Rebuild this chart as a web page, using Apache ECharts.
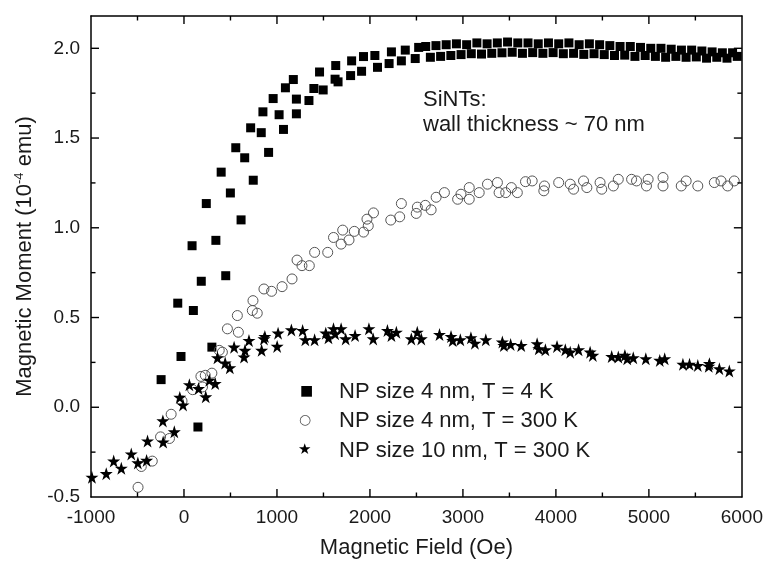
<!DOCTYPE html>
<html>
<head>
<meta charset="utf-8">
<script src="https://cdn.jsdelivr.net/npm/echarts@6/dist/echarts.min.js"></script>
<style>
html,body{margin:0;padding:0;background:#fff;}
#chart{width:766px;height:564px;}
</style>
</head>
<body>
<div id="chart"></div>
<script>
// ---- data (Magnetic Field in Oe, Magnetic Moment in 1e-4 emu) ----
var seriesNames = ['NP size 4 nm, T = 4 K', 'NP size 4 nm, T = 300 K', 'NP size 10 nm, T = 300 K'];
var legendGlyphs = ['\u25A0', '\u25CB', '\u2605'];
var noteLines = ['SiNTs:', 'wall thickness ~ 70 nm'];

var sq4K = [
  [-246,0.154],[-32,0.283],[-67,0.58],[101,0.539],[186,0.702],[449,0.733],[150,-0.11],[300,0.335],
  [87,0.90],[343,0.93],[240,1.135],[614,1.044],[499,1.194],[400,1.31],[745,1.265],[557,1.446],
  [653,1.39],[910,1.42],[717,1.557],[831,1.53],[1070,1.548],[849,1.646],[1023,1.63],[1209,1.635],
  [959,1.72],[1209,1.717],[1344,1.709],[1091,1.78],[1176,1.826],[1397,1.776],[1497,1.768],[1458,1.868],
  [1632,1.904],[1625,1.828],[1657,1.813],[1792,1.848],[1803,1.93],[1910,1.872],[1931,1.954],[2053,1.96],
  [2081,1.894],[2206,1.915],[2231,1.98],[2338,1.93],[2380,1.99],[2487,1.943],[2524,2.005],
  // upper branch
  [2600,2.01],[2710,2.015],[2820,2.02],[2930,2.025],[3040,2.02],[3150,2.03],[3260,2.025],[3370,2.03],
  [3480,2.035],[3590,2.03],[3700,2.03],[3810,2.025],[3920,2.03],[4030,2.025],[4140,2.03],[4250,2.02],
  [4360,2.025],[4470,2.02],[4580,2.015],[4690,2.01],[4800,2.01],[4910,2.005],[5020,2.0],[5130,2.0],
  [5240,1.995],[5350,1.99],[5460,1.99],[5570,1.985],[5680,1.98],[5790,1.975],[5900,1.975],
  // lower branch
  [2650,1.95],[2760,1.955],[2870,1.96],[2980,1.965],[3090,1.97],[3200,1.968],[3310,1.972],[3420,1.975],
  [3530,1.978],[3640,1.972],[3750,1.976],[3860,1.972],[3970,1.976],[4080,1.97],[4190,1.972],[4300,1.966],
  [4410,1.97],[4520,1.965],[4630,1.96],[4740,1.962],[4850,1.955],[4960,1.96],[5070,1.955],[5180,1.95],
  [5290,1.955],[5400,1.95],[5510,1.952],[5620,1.945],[5730,1.95],[5840,1.945],[5950,1.955]
];

var circ300K = [
  [-494,-0.446],[-459,-0.33],[-341,-0.30],[-252,-0.165],[-156,-0.174],[-138,-0.039],[-21,0.035],[93,0.098],
  [199,0.113],[182,0.172],[229,0.178],[300,0.19],[413,0.307],[379,0.317],[467,0.437],[585,0.418],
  [574,0.511],[735,0.539],[788,0.524],[742,0.594],[860,0.659],[942,0.646],[1055,0.672],[1162,0.715],
  [1216,0.82],[1269,0.789],[1348,0.789],[1405,0.863],[1546,0.863],[1608,0.946],[1707,0.987],[1690,0.909],
  [1775,0.932],[1832,0.98],[1931,0.976],[1982,1.011],[1968,1.048],[2038,1.083],[2224,1.043],[2320,1.061],
  [2338,1.135],[2498,1.08],[2510,1.115],[2595,1.125],[2658,1.10],[2712,1.17],[2801,1.196],[2943,1.159],
  [2979,1.187],[3068,1.159],[3068,1.224],[3175,1.196],[3264,1.243],[3371,1.252],[3389,1.196],[3460,1.196],
  [3521,1.224],[3585,1.196],[3673,1.257],[3745,1.261],[3877,1.233],[3870,1.206],[4030,1.252],[4154,1.243],
  [4190,1.215],[4297,1.261],[4333,1.224],[4475,1.252],[4493,1.215],[4618,1.233],[4671,1.27],[4814,1.27],
  [4867,1.261],[4992,1.27],[4974,1.233],[5152,1.28],[5152,1.233],[5401,1.261],[5348,1.233],[5526,1.233],
  [5704,1.252],[5776,1.261],[5847,1.233],[5918,1.261]
];

var star10nm = [
  [-990,-0.39],[-836,-0.37],[-756,-0.30],[-674,-0.34],[-567,-0.26],[-496,-0.31],[-402,-0.296],[-392,-0.188],
  [-224,-0.194],[-227,-0.076],[-104,-0.137],[-45,0.055],[-10,0.013],[58,0.125],[157,0.104],[234,0.058],
  [272,0.15],[336,0.132],[360,0.276],[443,0.246],[493,0.22],[539,0.335],[646,0.28],[656,0.317],
  [699,0.372],[835,0.317],[860,0.381],[870,0.394],[1002,0.339],[1012,0.413],[1155,0.431],[1276,0.428],
  [1305,0.376],[1405,0.376],[1525,0.413],[1554,0.387],[1608,0.437],[1626,0.409],[1690,0.437],[1739,0.381],
  [1840,0.40],[1989,0.437],[2035,0.381],[2188,0.428],[2231,0.40],[2284,0.418],[2445,0.381],[2509,0.418],
  [2552,0.381],[2748,0.405],[2872,0.394],[2890,0.372],[2972,0.376],[3086,0.387],[3129,0.357],[3246,0.376],
  [3424,0.363],[3440,0.344],[3513,0.35],[3627,0.344],[3798,0.354],[3816,0.326],[3887,0.32],[4012,0.339],
  [4101,0.32],[4154,0.307],[4244,0.32],[4368,0.307],[4397,0.289],[4600,0.283],[4671,0.28],[4742,0.289],
  [4767,0.27],[4832,0.276],[4967,0.27],[5117,0.261],[5170,0.27],[5366,0.239],[5437,0.239],[5526,0.233],
  [5644,0.228],[5651,0.243],[5758,0.215],[5865,0.202]
];

var xTicks = {min: -1000, max: 6000, interval: 1000};
var yTicks = {min: -0.5, max: 2.18, interval: 0.5};
var xMajorTicks = [0, 1000, 2000, 3000, 4000, 5000];
var xMinorTicks = [-500, 500, 1500, 2500, 3500, 4500, 5500];
var yMajorTicks = [0, 0.5, 1.0, 1.5, 2.0];
var yMinorTicks = [-0.25, 0.25, 0.75, 1.25, 1.75];

// ---- chart ----
var starPath = 'path://M50,0 L61.2,34.5 L97.6,34.5 L68.2,55.9 L79.4,90.5 L50,69.1 L20.6,90.5 L31.8,55.9 L2.4,34.5 L38.8,34.5 Z';
var font = 'Liberation Sans, Arial, Helvetica, sans-serif';
var ink = '#1a1a1a';

// tick items: [value, kind]  kind 0 = x major, 1 = x minor, 2 = y major, 3 = y minor
var tickItems = [];
xMajorTicks.forEach(function (v) { tickItems.push([v, 0]); });
xMinorTicks.forEach(function (v) { tickItems.push([v, 1]); });
yMajorTicks.forEach(function (v) { tickItems.push([v, 2]); });
yMinorTicks.forEach(function (v) { tickItems.push([v, 3]); });

function renderTick(params, api) {
  var v = api.value(0), k = api.value(1);
  var len = (k === 0 || k === 2) ? 8 : 4.5;
  var segs = [];
  if (k < 2) {
    var pb = api.coord([v, yTicks.min]);
    var pt = api.coord([v, yTicks.max]);
    segs.push([pb[0], pb[1], pb[0], pb[1] - len]);
    segs.push([pt[0], pt[1], pt[0], pt[1] + len]);
  } else {
    var pl = api.coord([xTicks.min, v]);
    var pr = api.coord([xTicks.max, v]);
    segs.push([pl[0], pl[1], pl[0] + len, pl[1]]);
    segs.push([pr[0], pr[1], pr[0] - len, pr[1]]);
  }
  return {
    type: 'group',
    children: segs.map(function (s) {
      return {type: 'line', shape: {x1: s[0], y1: s[1], x2: s[2], y2: s[3]},
        style: {stroke: '#000', lineWidth: 1.4}};
    })
  };
}

function lineOpt() { return {show: true, onZero: false, lineStyle: {color: '#000', width: 1.5}}; }

function txt(text, left, top, size, color, family) {
  return {text: text, left: left, top: top, padding: 0, itemGap: 0,
    textStyle: {fontFamily: family || font, fontSize: size, fontWeight: 'normal', color: color || ink}};
}
var legendTop = [381, 410, 440];
var titles = [
  txt(noteLines[0], 423, 89, 22),
  txt(noteLines[1], 423, 114, 22),
  txt(seriesNames[0], 339, legendTop[0], 22),
  txt(seriesNames[1], 339, legendTop[1], 22),
  txt(seriesNames[2], 339, legendTop[2], 22),
  txt(legendGlyphs[0], 300, legendTop[0] + 3, 14, '#000', 'DejaVu Sans'),
  txt(legendGlyphs[1], 299, legendTop[1] + 3, 14, '#555', 'DejaVu Sans'),
  txt(legendGlyphs[2], 298, legendTop[2] + 3, 15, '#000', 'DejaVu Sans')
];

var chart = echarts.init(document.getElementById('chart'));
chart.setOption({
  backgroundColor: '#fff',
  animation: false,
  title: titles,
  grid: {left: 91, right: 20, top: 16, bottom: 67},
  xAxis: [{
    type: 'value', position: 'bottom', min: xTicks.min, max: xTicks.max, interval: xTicks.interval,
    name: 'Magnetic Field (Oe)', nameLocation: 'middle', nameGap: 40,
    nameTextStyle: {fontFamily: font, fontSize: 22, color: ink},
    axisLine: lineOpt(), axisTick: {show: false}, minorTick: {show: false},
    axisLabel: {margin: 11, fontFamily: font, fontSize: 19, color: ink,
      formatter: function (v) { return String(v); }},
    splitLine: {show: false}
  }, {
    type: 'value', position: 'top', min: xTicks.min, max: xTicks.max, interval: xTicks.interval,
    axisLine: lineOpt(), axisTick: {show: false}, minorTick: {show: false},
    axisLabel: {show: false},
    splitLine: {show: false}
  }],
  yAxis: [{
    type: 'value', position: 'left', min: yTicks.min, max: yTicks.max, interval: yTicks.interval,
    name: 'Magnetic Moment (10{sup|-4} emu)', nameLocation: 'middle', nameGap: 50,
    nameTextStyle: {fontFamily: font, fontSize: 22, color: ink,
      rich: {sup: {fontFamily: font, fontSize: 13, color: ink, padding: [0, 0, 12, 0]}}},
    axisLine: lineOpt(), axisTick: {show: false}, minorTick: {show: false},
    axisLabel: {showMaxLabel: false, margin: 11, fontFamily: font, fontSize: 19, color: ink,
      formatter: function (v) { return v.toFixed(1); }},
    splitLine: {show: false}
  }, {
    type: 'value', position: 'right', min: yTicks.min, max: yTicks.max, interval: yTicks.interval,
    axisLine: lineOpt(), axisTick: {show: false}, minorTick: {show: false},
    axisLabel: {show: false},
    splitLine: {show: false}
  }],
  series: [
    {name: 'ticks', type: 'custom', data: tickItems, renderItem: renderTick, silent: true,
      xAxisIndex: 0, yAxisIndex: 0, clip: false, z: 5},
    {name: seriesNames[0], type: 'scatter', data: sq4K, symbol: 'rect', symbolSize: 9,
      itemStyle: {color: '#000', opacity: 1}},
    {name: seriesNames[1], type: 'scatter', data: circ300K, symbol: 'circle', symbolSize: 10,
      itemStyle: {color: 'rgba(255,255,255,0)', borderColor: '#555', borderWidth: 1, opacity: 1}},
    {name: seriesNames[2], type: 'scatter', data: star10nm, symbol: starPath, symbolSize: 13,
      itemStyle: {color: '#000', opacity: 1}}
  ]
});
</script>
</body>
</html>
